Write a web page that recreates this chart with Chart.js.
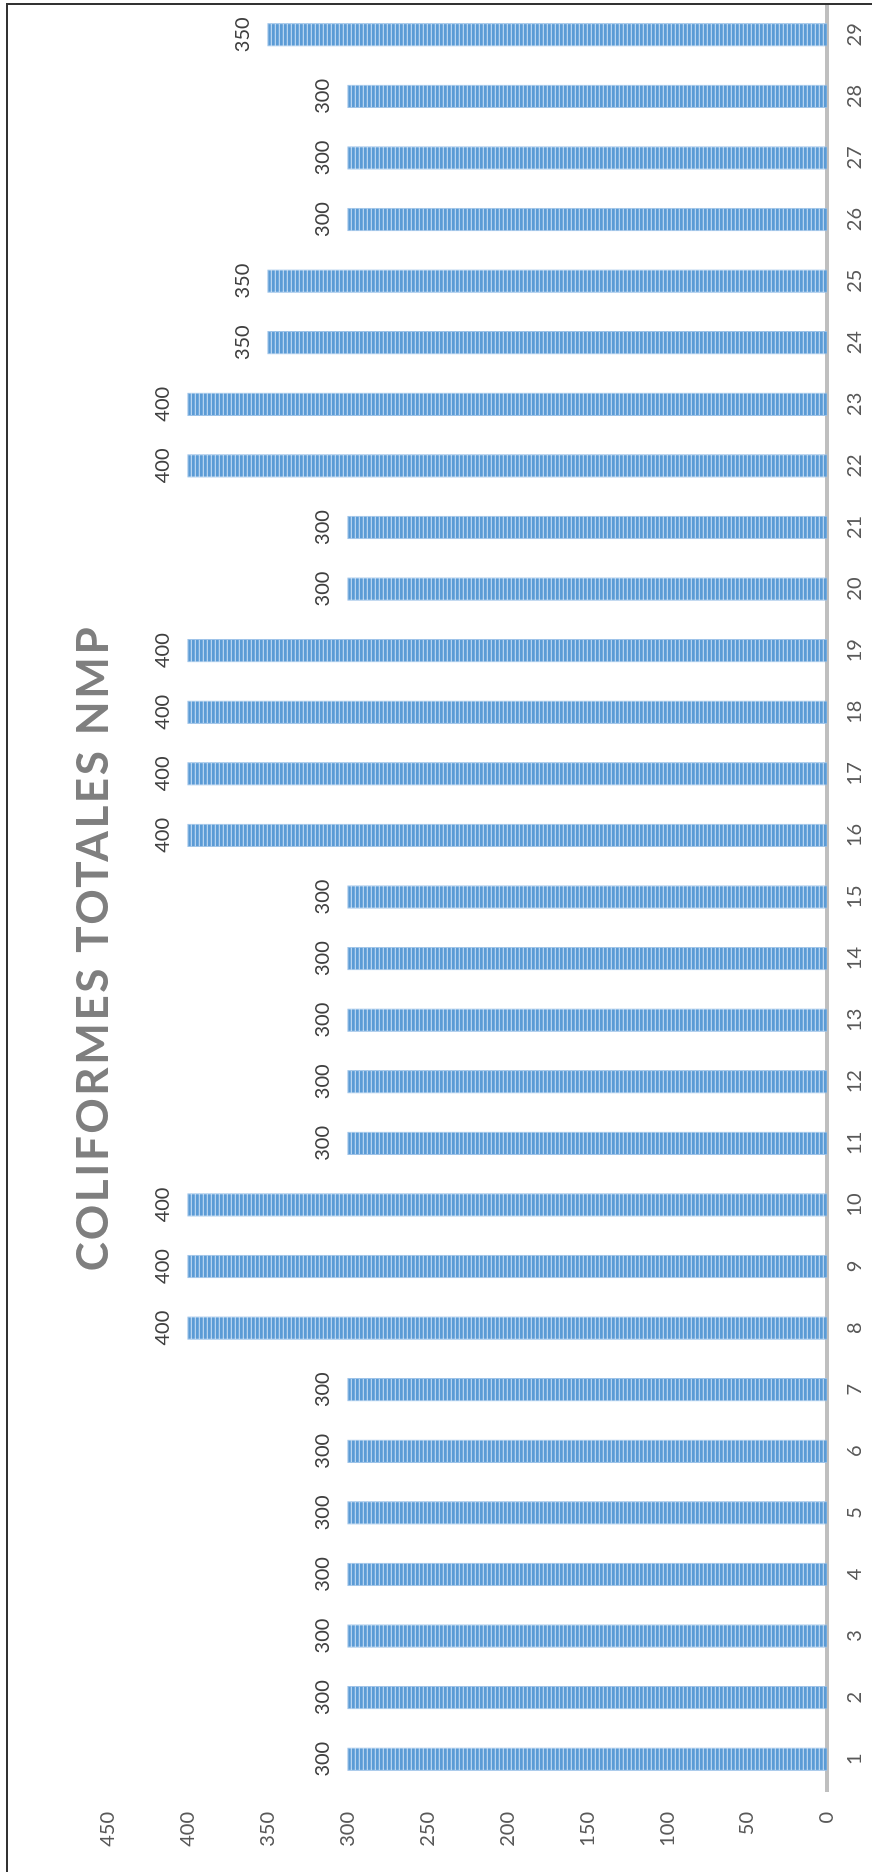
<!DOCTYPE html>
<html>
<head>
<meta charset="utf-8">
<title>Coliformes totales NMP</title>
<script src="https://cdn.jsdelivr.net/npm/chart.js@4.4.1/dist/chart.umd.min.js"></script>
<style>
  html, body { margin: 0; padding: 0; background: #fff; }
  body { width: 872px; height: 1872px; overflow: hidden; position: relative; }
  /* the whole chart is laid out landscape and turned a quarter left */
  #turn { position: absolute; left: 0; top: 0; width: 1872px; height: 872px;
          transform-origin: 0 0; transform: translateY(1872px) rotate(-90deg); }
  #frame { position: absolute; left: 6px; top: 3px; width: 900px; height: 1900px;
           border-left: 2px solid #333; border-top: 2px solid #333; pointer-events: none; }
</style>
</head>
<body>
<div id="turn"><canvas id="myChart" width="1872" height="872"></canvas></div>
<div id="frame"></div>
<script>
// muestras 1..29
const muestras = ["1", "2", "3", "4", "5", "6", "7", "8", "9", "10",
  "11", "12", "13", "14", "15", "16", "17", "18", "19", "20",
  "21", "22", "23", "24", "25", "26", "27", "28", "29"];
// coliformes totales (NMP)
const coliformes = [300, 300, 300, 300, 300, 300, 300, 400, 400, 400,
  300, 300, 300, 300, 300, 400, 400, 400, 400, 300,
  300, 400, 400, 350, 350, 300, 300, 300, 350];
const ejeMax = 450;
const ejePaso = 50;
const titulo = "COLIFORMES TOTALES NMP";

const canvas = document.getElementById("myChart");
const ctx = canvas.getContext("2d");

// striped fill for the bars
function rayas() {
  const tile = document.createElement("canvas");
  tile.width = 1;
  tile.height = 4;
  const g = tile.getContext("2d");
  const tonos = ["#5b9bd5", "#5b9bd5", "#72aadd", "#b6d3ef"];
  tonos.forEach((t, i) => {
    g.fillStyle = t;
    g.fillRect(0, i, 1, 1);
  });
  return ctx.createPattern(tile, "repeat");
}

// value printed above each bar
const etiquetas = {
  id: "etiquetas",
  afterDatasetsDraw(chart) {
    const c = chart.ctx;
    const meta = chart.getDatasetMeta(0);
    c.save();
    c.font = "20px Lato";
    c.fillStyle = "#404040";
    c.textAlign = "center";
    c.textBaseline = "middle";
    meta.data.forEach((bar, i) => {
      c.fillText(String(chart.data.datasets[0].data[i]), bar.x, bar.y - 25);
    });
    c.restore();
  }
};

// spaced out letters in the title
const tituloEspaciado = {
  id: "tituloEspaciado",
  afterInit(chart) {
    const block = chart.titleBlock;
    if (!block) return;
    const draw = block.draw.bind(block);
    block.draw = function () {
      chart.ctx.save();
      chart.ctx.letterSpacing = "2.6px";
      chart.ctx.translate(-10, 0);
      draw();
      chart.ctx.restore();
    };
  }
};

new Chart(ctx, {
  type: "bar",
  data: {
    labels: muestras,
    datasets: [{
      data: coliformes,
      backgroundColor: rayas(),
      borderColor: "#9cc2e8",
      borderWidth: 1,
      categoryPercentage: 1,
      barPercentage: 0.38
    }]
  },
  options: {
    responsive: false,
    animation: false,
    devicePixelRatio: 1,
    layout: { padding: { top: 0, right: 4, bottom: 0, left: 0 } },
    plugins: {
      legend: { display: false },
      tooltip: { enabled: false },
      title: {
        display: true,
        text: titulo,
        color: "#7f7f7f",
        font: { family: "Lato", size: 44, weight: "bold", lineHeight: 0.6 },
        padding: { top: 81, bottom: 0 }
      }
    },
    scales: {
      x: {
        grid: { display: false, drawTicks: false },
        border: { display: true, color: "#bfbfbf", width: 4 },
        ticks: { color: "#595959", font: { family: "Lato", size: 20 }, padding: 16, maxRotation: 0, autoSkip: false },
        afterFit(scale) { scale.height = 45; }
      },
      y: {
        min: 0,
        max: ejeMax,
        grid: { display: false, drawTicks: false },
        border: { display: false },
        ticks: { stepSize: ejePaso, color: "#595959", font: { family: "Lato", size: 20 }, padding: 22 },
        afterFit(scale) { scale.width = 82; }
      }
    }
  },
  plugins: [etiquetas, tituloEspaciado]
});
</script>
</body>
</html>
